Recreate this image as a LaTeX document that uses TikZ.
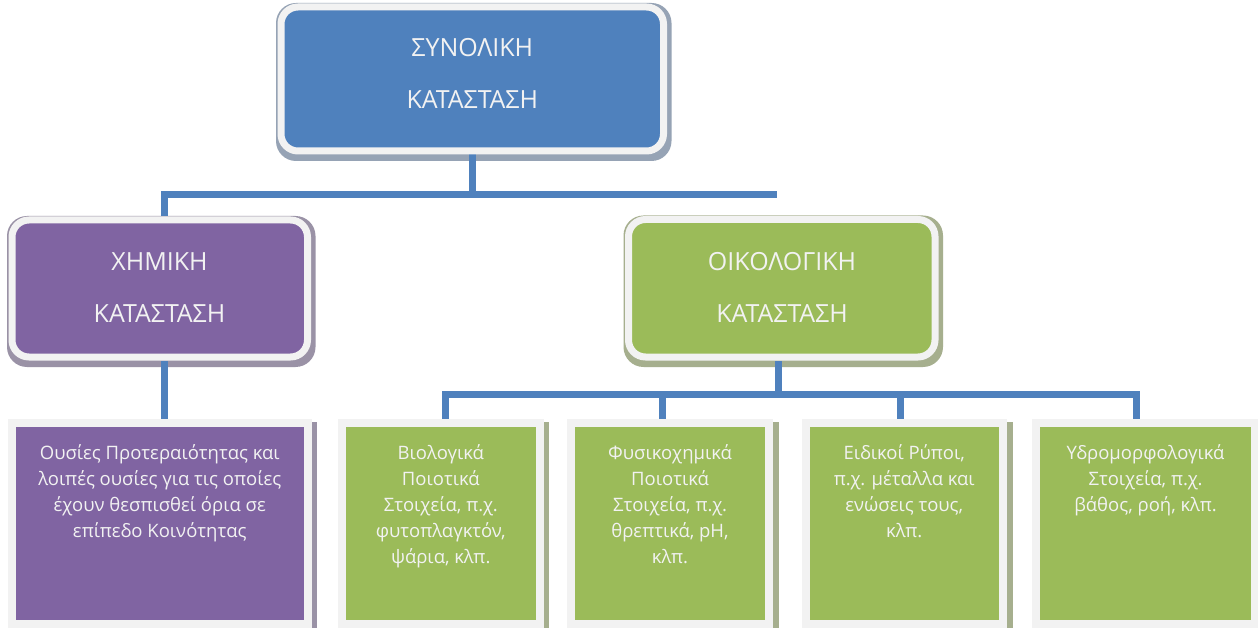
\documentclass[tikz,border=0pt]{standalone}
\usepackage{fontspec}
\setmainfont{Open Sans}
\usetikzlibrary{backgrounds,calc}
\definecolor{cblue}{HTML}{4F81BD}
\definecolor{cpurple}{HTML}{8064A2}
\definecolor{cgreen}{HTML}{9BBB59}
\definecolor{cborder}{HTML}{F2F2F2}
\definecolor{ctext}{HTML}{F2F2F2}
\definecolor{shblue}{HTML}{96A3B5}
\definecolor{shpurple}{HTML}{9A92A6}
\definecolor{shgreen}{HTML}{A6AF8E}
\tikzset{
  headbox/.style={draw=cborder, line width=7pt, rounded corners=17pt, inner sep=0pt},
  leafbox/.style={draw=cborder, line width=8pt, inner sep=0pt, minimum height=201pt},
  headtext/.style={text=ctext, font=\fontsize{25}{52}\selectfont, align=center, inner sep=0pt},
  leaftext/.style={text=ctext, font=\fontsize{18.5}{26}\selectfont, align=center, inner sep=0pt, anchor=north},
  link/.style={draw=cblue, line width=7pt},
}
\begin{document}
\begin{tikzpicture}[x=1pt,y=-1pt]
\useasboundingbox (0,0) rectangle (1258,628);
% heads
\node[headbox, fill=cblue, minimum width=382.5pt, minimum height=144pt] (total) at (472.25,79) {};
\node[headbox, fill=cpurple, minimum width=295.5pt, minimum height=137pt] (chem) at (159.75,288.5) {};
\node[headbox, fill=cgreen, minimum width=306.5pt, minimum height=137.5pt] (eco) at (781.75,288.25) {};
\node[headtext] (totalT) at (472.25,73.5) {ΣΥΝΟΛΙΚΗ\\ΚΑΤΑΣΤΑΣΗ};
\node[headtext] (chemT) at (159.5,287.5) {ΧΗΜΙΚΗ\\ΚΑΤΑΣΤΑΣΗ};
\node[headtext] (ecoT) at (782,287) {ΟΙΚΟΛΟΓΙΚΗ\\ΚΑΤΑΣΤΑΣΗ};
% leaves
\node[leafbox, fill=cpurple, minimum width=295.5pt] (p0) at (159.75,523.5) {};
\node[leafbox, fill=cgreen, minimum width=197.5pt] (g1) at (440.75,523.5) {};
\node[leafbox, fill=cgreen, minimum width=198pt] (g2) at (670,523.5) {};
\node[leafbox, fill=cgreen, minimum width=197.5pt] (g3) at (904.25,523.5) {};
\node[leafbox, fill=cgreen, minimum width=219pt] (g4) at (1145.5,523.5) {};
\node[leaftext] (p0T) at ($(p0.north)+(0,25)$) {Ουσίες Προτεραιότητας και\\λοιπές ουσίες για τις οποίες\\έχουν θεσπισθεί όρια σε\\επίπεδο Κοινότητας};
\node[leaftext] (g1T) at ($(g1.north)+(0,25)$) {Βιολογικά\\Ποιοτικά\\Στοιχεία, π.χ.\\φυτοπλαγκτόν,\\ψάρια, κλπ.};
\node[leaftext] (g2T) at ($(g2.north)+(0,25)$) {Φυσικοχημικά\\Ποιοτικά\\Στοιχεία, π.χ.\\θρεπτικά, pH,\\κλπ.};
\node[leaftext] (g3T) at ($(g3.north)+(0,25)$) {Ειδικοί Ρύποι,\\π.χ. μέταλλα και\\ενώσεις τους,\\κλπ.};
\node[leaftext] (g4T) at ($(g4.north)+(0,25)$) {Υδρομορφολογικά\\Στοιχεία, π.χ.\\βάθος, ροή, κλπ.};
% connector coordinates
\coordinate (h1L) at (164,195);
\coordinate (h1R) at (777,195);
\coordinate (cx) at (164,0);
\coordinate (d1) at (445,394);
\coordinate (d2) at (662,394);
\coordinate (d3) at (900,394);
\coordinate (d4) at (1136,394);
\coordinate (ex) at (778,0);
\begin{scope}[on background layer]
  \fill[white] (0,0) rectangle (1258,628);
  \fill[shblue, rounded corners=20pt] ($(total.north west)+(-1.5,-0.5)$) rectangle ($(total.south east)+(4.5,6.5)$);
  \fill[shpurple, rounded corners=20pt] ($(chem.north west)+(-1.5,-0.5)$) rectangle ($(chem.south east)+(4.5,6.5)$);
  \fill[shgreen, rounded corners=20pt] ($(eco.north west)+(-1.5,-0.5)$) rectangle ($(eco.south east)+(4.5,6.5)$);
  \fill[shpurple] ($(p0.north west)+(0,3)$) rectangle ($(p0.south east)+(5.5,9)$);
  \foreach \g in {g1,g2,g3,g4}
    \fill[shgreen] ($(\g.north west)+(0,3)$) rectangle ($(\g.south east)+(5.5,9)$);
  \draw[link] (total.south) -- (total.south |- h1L);
  \draw[link] (chem.north -| h1L) -- (h1L) -- (h1R);
  \draw[link] (chem.south -| cx) -- (p0.north -| cx);
  \draw[link] (eco.south -| ex) -- (d2 -| ex);
  \draw[link] (g1.north -| d1) -- (d1) -- (d4) -- (g4.north -| d4);
  \draw[link] (d2) -- (g2.north -| d2);
  \draw[link] (d3) -- (g3.north -| d3);
\end{scope}
\end{tikzpicture}
\end{document}
